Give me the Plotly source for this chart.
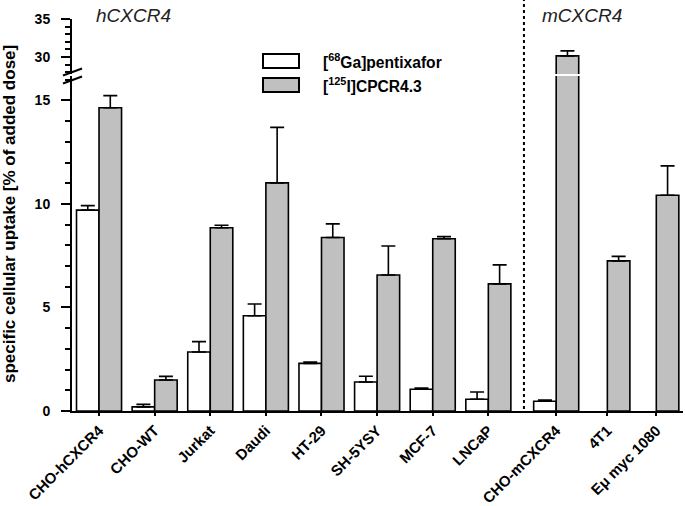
import plotly.graph_objects as go

categories = ["CHO-hCXCR4", "CHO-WT", "Jurkat", "Daudi", "HT-29", "SH-5YSY",
              "MCF-7", "LNCaP", "CHO-mCXCR4", "4T1", "Eμ myc 1080"]
pentixafor = [9.7, 0.2, 2.85, 4.6, 2.3, 1.4, 1.05, 0.57, 0.47, None, None]
pentixafor_err = [0.22, 0.12, 0.5, 0.57, 0.06, 0.28, 0.06, 0.35, 0.06, None, None]
cpcr = [14.65, 1.5, 8.85, 11.02, 8.38, 6.57, 8.32, 6.14, 30.15, 7.25, 10.42]
cpcr_err = [0.58, 0.17, 0.12, 2.68, 0.66, 1.4, 0.1, 0.92, 0.65, 0.22, 1.42]

# layout positions (left group evenly spaced, right group after the separator)
xpos = list(range(8)) + [8.22, 9.14, 10.02]
bw = 0.405

FONT = "Arial, Liberation Sans, sans-serif"
GRAY = "#c0c0c0"

fig = go.Figure()
for yax in ["y", "y2"]:
    fig.add_trace(go.Bar(
        x=xpos, y=pentixafor, width=bw, offset=-bw, xaxis="x", yaxis=yax,
        marker=dict(color="white", line=dict(color="black", width=1.6)),
        error_y=dict(type="data", symmetric=False, array=pentixafor_err,
                     arrayminus=[0] * len(pentixafor_err),
                     color="black", thickness=1.6, width=7),
        name="[68Ga]pentixafor", showlegend=False))
    fig.add_trace(go.Bar(
        x=xpos, y=cpcr, width=bw, offset=0, xaxis="x", yaxis=yax,
        marker=dict(color=GRAY, line=dict(color="black", width=1.6)),
        error_y=dict(type="data", symmetric=False, array=cpcr_err,
                     arrayminus=[0] * len(cpcr_err),
                     color="black", thickness=1.6, width=7),
        name="[125I]CPCR4.3", showlegend=False))

W, H = 685, 506
L, R, T, B = 72, 2, 19, 95
pw, ph = W - L - R, H - T - B


def px(xp):
    return (xp - L) / pw


def py(yp):
    return (H - B - yp) / ph


tickfont = dict(family=FONT, size=14, color="black", weight="bold")
minor = dict(dtick=1, tick0=0, ticks="outside", ticklen=5,
             tickwidth=2, tickcolor="black", showgrid=False)

fig.update_layout(
    width=W, height=H, margin=dict(l=L, r=R, t=T, b=B, autoexpand=False),
    paper_bgcolor="white", plot_bgcolor="white", barmode="overlay",
    font=dict(family=FONT, color="black"),
    xaxis=dict(range=[-0.486, 10.5], tickmode="array", tickvals=xpos,
               ticktext=["<b>%s</b>" % c for c in categories], tickangle=-45,
               tickfont=dict(family=FONT, size=15, color="black"),
               showgrid=False, zeroline=False,
               showline=True, linecolor="black", linewidth=2,
               ticks="outside", ticklen=3, tickwidth=1.5, tickcolor="black",
               anchor="y"),
    yaxis=dict(domain=[0, py(76)], range=[0, 16.18], tickvals=[0, 5, 10, 15],
               tickfont=tickfont, showgrid=False, zeroline=False,
               showline=True, linecolor="black", linewidth=2,
               ticks="outside", ticklen=9, tickwidth=2, tickcolor="black",
               ticklabelstandoff=8, minor=minor, anchor="x"),
    yaxis2=dict(domain=[py(74), 1], range=[27.76, 35], tickvals=[30, 35],
                tickfont=tickfont, showgrid=False, zeroline=False,
                showline=True, linecolor="black", linewidth=2,
                ticks="outside", ticklen=9, tickwidth=2, tickcolor="black",
                ticklabelstandoff=8, minor=minor, anchor="x"),
)

shapes = []
# separator between human and murine receptor groups
shapes.append(dict(type="line", xref="x", yref="paper", x0=7.64, x1=7.64,
                   y0=py(409), y1=py(0), line=dict(color="black", width=2, dash="dot")))
# axis break marks
for yc in (72, 80):
    shapes.append(dict(type="line", xref="paper", yref="paper",
                       x0=px(63), y0=py(yc + 3.5), x1=px(82), y1=py(yc - 3.5),
                       line=dict(color="black", width=2)))
# legend boxes
shapes.append(dict(type="rect", xref="paper", yref="paper",
                   x0=px(263), x1=px(299), y0=py(68), y1=py(54),
                   fillcolor="white", line=dict(color="black", width=2)))
shapes.append(dict(type="rect", xref="paper", yref="paper",
                   x0=px(263), x1=px(299), y0=py(92), y1=py(78),
                   fillcolor=GRAY, line=dict(color="black", width=2)))
fig.update_layout(shapes=shapes)

ann = []
ann.append(dict(text="<b>[<sup>68</sup>Ga]pentixafor</b>", xref="paper", yref="paper",
                x=px(321), y=py(61), xanchor="left", yanchor="middle", showarrow=False,
                font=dict(family=FONT, size=15.6, color="black")))
ann.append(dict(text="<b>[<sup>125</sup>I]CPCR4.3</b>", xref="paper", yref="paper",
                x=px(321), y=py(85), xanchor="left", yanchor="middle", showarrow=False,
                font=dict(family=FONT, size=15.6, color="black")))
ann.append(dict(text="<i>hCXCR4</i>", xref="paper", yref="paper",
                x=px(133), y=py(15), xanchor="center", yanchor="middle", showarrow=False,
                font=dict(family=FONT, size=19, color="#222")))
ann.append(dict(text="<i>mCXCR4</i>", xref="paper", yref="paper",
                x=px(582), y=py(15), xanchor="center", yanchor="middle", showarrow=False,
                font=dict(family=FONT, size=19, color="#222")))
ann.append(dict(text="<b>specific cellular uptake [% of added dose]</b>", xref="paper",
                yref="paper", x=px(9), y=py(214), xanchor="center", yanchor="middle",
                textangle=-90, showarrow=False,
                font=dict(family=FONT, size=17, color="black")))
fig.update_layout(annotations=ann)

# remove the default page body margin so the figure fills the window exactly
post = "document.body.style.margin = '0';"
fig.write_html("out.html", post_script=post, config={"displayModeBar": False})
